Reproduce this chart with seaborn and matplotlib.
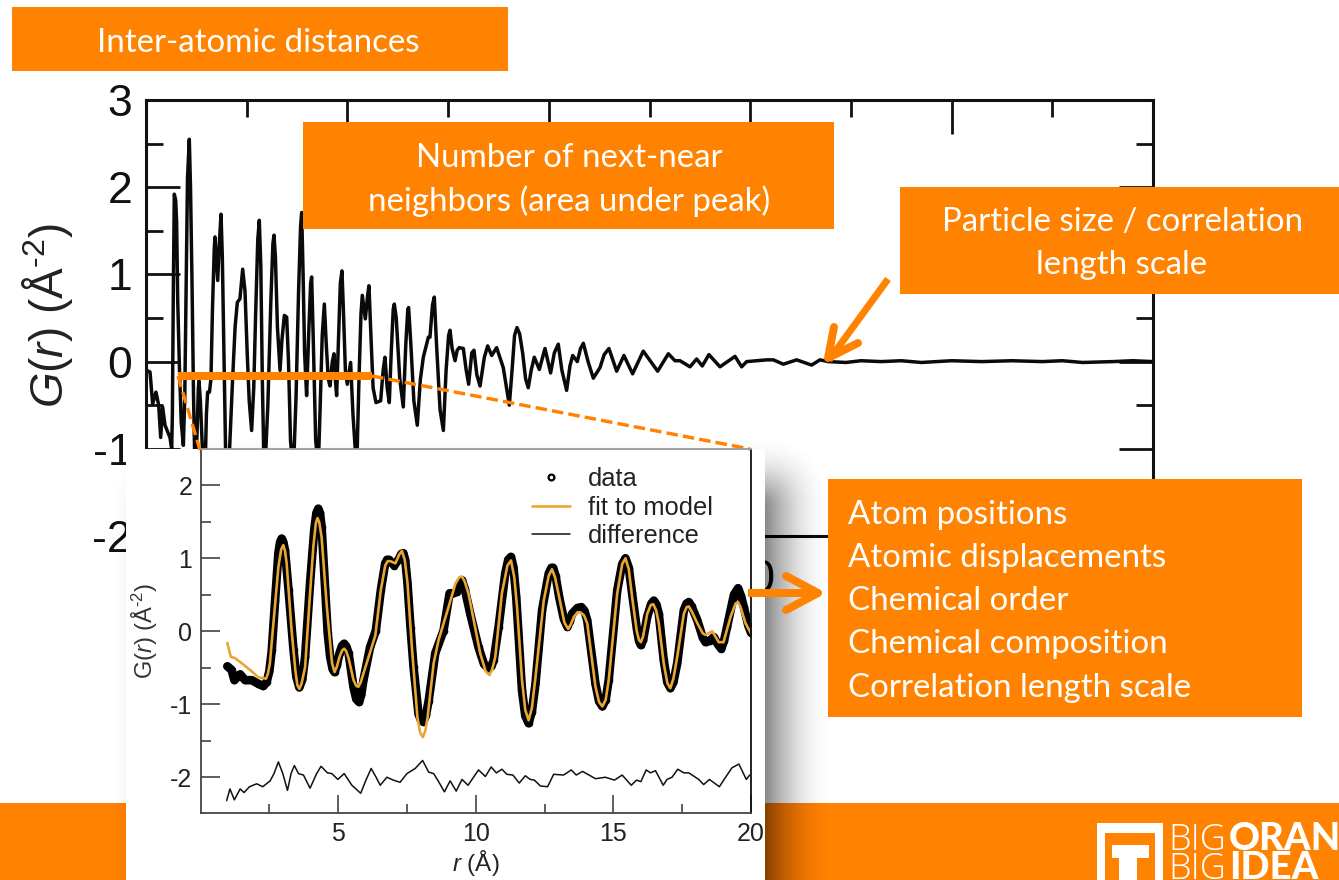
import matplotlib
matplotlib.use("Agg")
import matplotlib.pyplot as plt
import seaborn as sns
from matplotlib.lines import Line2D
from matplotlib.patches import Rectangle, FancyBboxPatch

# ---------- data ----------
main_r = [0.07,0.40,0.66,0.99,1.26,1.46,1.65,1.89,2.38,2.55,2.62,2.72,2.81,2.95,3.04,3.15,3.31,3.5,3.71,3.85,3.98,4.12,4.30,4.42,4.57,4.72,4.87,5.05,5.2,5.26,5.4,5.6,5.86,6.0,6.12,6.3,6.45,6.6,6.78,6.85,6.97,7.12,7.28,7.45,7.58,7.75,7.9,8.05,8.3,8.6,8.85,9.07,9.33,9.6,9.83,10.05,10.25,10.49,10.7,10.9,11.1,11.25,11.4,11.55,11.75,12.1,12.4,12.6,12.71,12.85,13.05,13.31,13.5,13.74,13.97,14.15,14.35,14.63,14.9,15.15,15.35,15.46,15.6,15.75,15.95,16.15,16.35,16.45,16.6,16.85,17.11,17.3,17.5,17.71,17.9,18.1,18.27,18.5,18.67,18.8,18.93,19.1,19.3,19.46,19.6,19.8,19.99,20.32,20.55,20.92,21.15,21.35,21.48,21.78,22.0,22.14,22.3,22.55,22.84,23.3,23.55,23.73,23.95,24.16,24.35,24.55,24.66,24.85,25.2,25.55,25.8,26.0,26.08,26.3,26.6,26.94,27.25,27.54,28.04,28.2,28.45,28.63,28.85,29.2,29.53,29.8,30.05,30.19,30.4,30.69,30.9,31.11,31.51,31.8,32.04,32.35,32.57,32.85,33.17,33.6,33.93,34.33,34.82,35.48,35.8,36.08,36.35,36.6,36.84,37.1,37.4,37.7,37.96,38.25,38.56,39.06,39.62,40.18,40.55,40.94,41.3,41.77,42.1,42.37,42.83,43.15,43.43,43.9,44.42,45.08,45.5,45.97,46.74,47.46,48.32,49.38,50.0,50.81,51.87,52.53,53.03,54.02,54.68,55.24,55.9,57.0,58.49,59.15,59.65,60.64,61.63,62.3,63.29,64.61,66.1,66.93,67.75,69.5,71,73,75,77,80,83,86,89,91,93,96,98,100]
main_g = [-0.10,-0.12,-0.485,-0.35,-0.50,-0.87,-0.52,-0.73,-0.87,-1.0,-0.6,0.9,1.92,1.85,1.6,0.7,-0.03,-0.7,-0.96,-0.4,0.8,2.1,2.55,2.0,0.9,-0.4,-1.29,-0.9,-0.3,-0.22,-0.45,-1.0,-1.29,-0.6,-0.35,-0.35,-0.2,0.6,1.3,1.43,1.2,0.93,1.35,1.69,1.2,0.0,-1.0,-1.33,-1.0,-0.2,0.4,0.68,0.72,1.06,0.81,0.1,-0.45,-0.79,-0.3,0.6,1.4,1.62,1.1,-0.2,-1.4,-0.5,0.7,1.35,1.45,1.2,0.4,-0.10,0.25,0.53,0.51,0.0,-0.9,-1.29,-0.4,0.8,1.55,1.71,1.0,0.1,-0.39,0.3,0.9,0.97,0.3,-0.9,-1.21,-0.5,0.3,0.66,0.2,-0.2,-0.28,0.0,0.09,-0.2,-0.39,0.2,0.9,1.04,0.6,-0.1,-0.26,-0.01,-0.6,-1.25,-0.2,0.55,0.76,0.49,0.75,0.87,0.4,-0.3,-0.47,-0.45,-0.1,0.05,-0.3,-0.47,0.1,0.6,0.66,0.5,-0.2,-0.52,0.2,0.6,0.62,0.2,-0.45,-0.73,-0.2,0.05,0.28,0.28,0.65,0.74,0.2,-0.55,-0.79,-0.1,0.3,0.36,0.15,0.01,0.13,0.16,0.15,-0.1,-0.26,0.1,0.13,-0.15,-0.28,0.05,0.18,0.07,0.16,-0.07,-0.3,-0.50,-0.1,0.3,0.39,0.32,0.1,-0.2,-0.30,-0.1,0.05,-0.09,0.15,-0.13,0.1,0.20,-0.1,-0.33,-0.05,0.07,0.0,0.15,0.21,0.0,-0.19,-0.07,0.08,0.15,-0.11,0.07,-0.14,0.12,0.02,-0.11,0.09,0.01,0.01,-0.06,0.03,-0.05,0.08,-0.06,0.06,-0.06,0.0,0.01,0.02,0.02,-0.03,0.02,-0.04,0.02,0.0,-0.01,0.01,0.0,0.01,-0.01,0.01,0.0,0.01,0.0,0.01,-0.01,0.0,0.01,0.0]

data_r = [0.975,1.13,1.23,1.44,1.62,1.86,2.10,2.28,2.40,2.5,2.59,2.71,2.83,2.89,2.95,3.01,3.07,3.2,3.38,3.48,3.59,3.7,3.8,3.98,4.13,4.21,4.28,4.34,4.4,4.53,4.62,4.71,4.8,4.87,4.96,5.05,5.14,5.22,5.30,5.38,5.56,5.66,5.76,5.84,5.92,6.16,6.37,6.55,6.71,6.78,6.85,7.04,7.19,7.3,7.37,7.44,7.52,7.63,7.74,7.92,8.01,8.10,8.19,8.29,8.53,8.83,9.05,9.19,9.31,9.42,9.5,9.6,9.8,10.1,10.3,10.47,10.57,10.65,10.83,11.07,11.18,11.28,11.37,11.47,11.68,11.8,11.92,12.04,12.17,12.41,12.65,12.75,12.81,12.9,13.03,13.2,13.33,13.42,13.5,13.7,13.84,13.95,14.05,14.35,14.48,14.6,14.72,14.83,15.14,15.32,15.44,15.56,15.68,15.85,15.93,16.0,16.08,16.23,16.38,16.47,16.56,16.65,16.83,16.96,17.07,17.18,17.32,17.56,17.66,17.74,17.84,18.05,18.25,18.35,18.5,18.65,18.8,18.92,19.02,19.13,19.38,19.53,19.64,19.74,19.9,20.0]
data_g = [-0.48,-0.53,-0.67,-0.59,-0.67,-0.67,-0.72,-0.75,-0.70,-0.55,-0.26,0.42,1.07,1.22,1.27,1.22,1.11,0.56,-0.26,-0.62,-0.77,-0.66,-0.35,0.66,1.38,1.62,1.68,1.62,1.43,0.56,-0.02,-0.35,-0.52,-0.56,-0.46,-0.30,-0.20,-0.17,-0.21,-0.30,-0.77,-0.93,-0.97,-0.87,-0.67,-0.22,0.01,0.56,0.93,0.98,0.98,0.90,0.98,1.06,1.07,0.97,0.66,0.05,-0.49,-1.13,-1.22,-1.24,-1.15,-0.95,-0.30,0.01,0.52,0.52,0.54,0.66,0.70,0.58,0.24,-0.22,-0.45,-0.51,-0.48,-0.4,0.06,0.79,0.98,1.02,0.88,0.47,-0.81,-1.16,-1.26,-1.1,-0.72,0.29,0.79,0.87,0.87,0.76,0.47,0.17,0.06,0.14,0.24,0.32,0.33,0.28,0.15,-0.72,-0.96,-1.03,-0.94,-0.67,0.56,0.92,1.0,0.87,0.52,0.04,-0.13,-0.19,-0.12,0.20,0.38,0.42,0.37,0.24,-0.4,-0.7,-0.78,-0.7,-0.44,0.29,0.38,0.40,0.34,0.15,-0.09,-0.15,-0.13,-0.08,-0.18,-0.24,-0.13,0.06,0.5,0.59,0.48,0.33,0.08,-0.02]

fit_r = [0.975,1.1,1.26,1.5,1.8,2.1,2.38,2.45,2.52,2.65,2.83,2.93,3.01,3.07,3.13,3.31,3.45,3.52,3.59,3.67,3.8,3.98,4.1,4.19,4.25,4.31,4.4,4.59,4.78,4.87,4.96,5.05,5.15,5.22,5.29,5.38,5.56,5.66,5.74,5.82,5.92,6.35,6.55,6.71,6.8,6.9,7.08,7.22,7.32,7.42,7.52,7.68,7.88,7.98,8.08,8.17,8.25,8.47,8.65,9.01,9.26,9.4,9.5,9.6,9.74,10.16,10.36,10.5,10.6,10.71,10.95,11.15,11.28,11.4,11.5,11.68,11.8,11.92,12.04,12.17,12.47,12.65,12.77,12.88,13.03,13.22,13.36,13.46,13.57,13.7,13.8,13.93,14.05,14.35,14.48,14.6,14.72,14.83,15.14,15.32,15.44,15.56,15.68,15.85,15.93,16.0,16.08,16.23,16.36,16.45,16.55,16.65,16.83,16.96,17.07,17.18,17.32,17.56,17.66,17.74,17.85,18.05,18.25,18.35,18.59,18.83,19.0,19.26,19.44,19.53,19.62,19.8,20.0]
fit_g = [-0.16,-0.35,-0.37,-0.44,-0.53,-0.63,-0.65,-0.58,-0.44,0.11,0.88,1.12,1.18,1.10,0.93,0.01,-0.55,-0.74,-0.79,-0.72,-0.49,0.52,1.16,1.48,1.55,1.50,1.29,0.33,-0.44,-0.56,-0.48,-0.35,-0.26,-0.24,-0.27,-0.37,-0.67,-0.75,-0.76,-0.7,-0.58,-0.06,0.56,0.9,0.96,0.96,0.93,1.05,1.10,0.98,0.66,-0.22,-1.18,-1.39,-1.45,-1.36,-1.18,-0.44,-0.12,0.33,0.65,0.74,0.75,0.68,0.51,-0.3,-0.55,-0.6,-0.52,-0.35,0.52,0.9,0.97,0.74,0.33,-0.67,-1.08,-1.22,-1.05,-0.63,0.42,0.76,0.85,0.74,0.47,0.12,0.03,0.1,0.2,0.26,0.26,0.22,0.11,-0.76,-0.97,-1.03,-0.94,-0.67,0.52,0.92,1.0,0.85,0.47,0.0,-0.12,-0.15,-0.07,0.24,0.36,0.37,0.29,0.11,-0.44,-0.71,-0.78,-0.65,-0.35,0.24,0.33,0.34,0.27,0.11,-0.03,-0.05,0.0,-0.15,-0.15,0.2,0.38,0.4,0.33,0.11,-0.03]

diff_r = [0.95,1.07,1.23,1.44,1.58,1.78,2.04,2.26,2.53,2.67,2.83,2.99,3.16,3.29,3.41,3.56,3.74,3.98,4.22,4.38,4.61,4.77,4.99,5.22,5.5,5.82,6.01,6.2,6.38,6.53,6.77,7.01,7.25,7.5,7.8,8.07,8.29,8.47,8.65,8.86,9.07,9.29,9.5,9.72,10.1,10.35,10.56,10.75,10.95,11.13,11.35,11.58,11.8,11.98,12.13,12.35,12.61,12.83,13.19,13.47,13.65,13.88,14.35,14.71,15.04,15.32,15.65,15.84,16.0,16.19,16.35,16.53,16.81,16.95,17.13,17.34,17.56,17.74,18.1,18.28,18.49,18.85,19.13,19.31,19.56,19.83,19.95]
diff_g = [-2.32,-2.16,-2.31,-2.16,-2.21,-2.13,-2.09,-2.13,-2.05,-1.95,-1.79,-1.95,-2.18,-1.95,-1.84,-1.95,-1.97,-2.15,-1.95,-1.85,-1.94,-1.95,-2.03,-1.95,-2.11,-2.22,-2.04,-1.88,-2.0,-2.11,-2.0,-2.04,-2.07,-1.95,-1.88,-1.77,-1.93,-1.95,-2.06,-2.2,-2.05,-2.19,-2.03,-2.11,-1.9,-1.99,-1.86,-1.94,-1.89,-1.96,-1.97,-2.08,-1.98,-2.03,-2.04,-2.12,-2.13,-1.96,-1.97,-1.9,-1.97,-1.92,-2.02,-2.0,-2.04,-1.97,-2.11,-2.04,-2.06,-1.9,-1.94,-1.91,-2.11,-2.03,-2.0,-1.89,-1.94,-1.94,-2.03,-2.1,-2.03,-2.13,-1.97,-1.87,-1.82,-2.03,-1.97]

main_xticks = [0, 20, 40, 60, 80, 100]
main_xticklabels = ["", "", "", "60", "", ""]
main_yticks = [-2, -1, 0, 1, 2, 3]
main_yticklabels = ["-2", "-1", "0", "1", "2", "3"]
inset_xticks = [5, 10, 15, 20]
inset_yticks = [-2, -1, 0, 1, 2]
inset_yticklabels = ["-2", "-1", "0", "1", "2"]
legend_labels = ["data", "fit to model", "difference"]
detail_lines = ["Atom positions", "Atomic displacements", "Chemical order",
                "Chemical composition", "Correlation length scale"]

# ---------- style ----------
ORANGE = "#FF8200"
GOLD = "#E8A632"
W, H = 1339, 880
PT = 72 / 100  # points per pixel

sns.set_theme(style="white")
plt.rcParams["font.family"] = ["Liberation Sans", "DejaVu Sans"]
plt.rcParams["mathtext.fontset"] = "custom"
plt.rcParams["mathtext.rm"] = "Liberation Sans"
plt.rcParams["mathtext.it"] = "Liberation Sans:italic"
plt.rcParams["axes.unicode_minus"] = False

fig = plt.figure(figsize=(W / 100, H / 100), dpi=100, facecolor="white")


def box_axes(x0, y0, x1, y1, z):
    ax = fig.add_axes([x0 / W, 1 - y1 / H, (x1 - x0) / W, (y1 - y0) / H], zorder=z)
    ax.patch.set_alpha(0)
    return ax


def overlay(z):
    ax = box_axes(0, 0, W, H, z)
    ax.set_xlim(0, W)
    ax.set_ylim(H, 0)
    ax.axis("off")
    return ax


# background band
bg = overlay(0)
bg.add_patch(Rectangle((0, 803), W, 77, color=ORANGE, lw=0))

# main axes
ax = box_axes(146, 100, 1153, 536, 1)
sns.lineplot(x=main_r, y=main_g, ax=ax, color="#0a0a0a", lw=2.5, estimator=None,
             sort=False, errorbar=None)
ax.set_xlim(0, 100)
ax.set_ylim(-2, 3)
ax.set_xticks(main_xticks)
ax.set_xticklabels(main_xticklabels)
ax.set_xticks([10, 30, 50, 70, 90], minor=True)
ax.set_yticks(main_yticks)
ax.set_yticklabels(main_yticklabels)
ax.set_yticks([-1.5, -0.5, 0.5, 1.5, 2.5], minor=True)
ax.tick_params(axis="both", which="major", direction="in", top=True, right=True, bottom=True,
               left=True, length=34 * PT, width=2.0, color="#111111", labelsize=32, pad=10,
               labelcolor="#111111")
ax.tick_params(axis="both", which="minor", direction="in", top=True, right=True, bottom=True,
               left=True, length=17 * PT, width=2.0, color="#111111")
ax.tick_params(axis="x", which="major", pad=16, labelsize=33)
for s in ax.spines.values():
    s.set_linewidth(2.2)
    s.set_color("#111111")
    s.set_visible(True)
ax.set_ylabel(r"$G(r)$ (Å$^{\text{-2}}$)", fontsize=33, color="#222222")
ax.yaxis.set_label_coords(-0.0705, 0.505)

# shadow and white panel
mid = overlay(2)
PX0, PX1, PY0, PY1 = 126, 765, 449, 880
N = 80
prev = 0.0
for d in range(N, 0, -2):
    t = 0.58 * (1 - d / N) ** 2
    a = 1 - (1 - t) / (1 - prev)
    prev = t
    mid.add_patch(FancyBboxPatch((186, 510), 570, 500,
                                 boxstyle=f"round,pad={d},rounding_size={d}",
                                 fc="black", ec="none", alpha=a, lw=0))
mid.add_patch(Rectangle((PX0, PY0), PX1 - PX0, PY1 - PY0, fc="white", ec="none"))
mid.plot([178, 372], [376, 376], color=ORANGE, lw=8 * PT, solid_capstyle="butt")
mid.plot([178, 200], [376, 450], color=ORANGE, lw=3.4 * PT, ls=(0, (3.4, 1.5)))
mid.plot([372, 750], [376, 449], color=ORANGE, lw=3.4 * PT, ls=(0, (3.4, 1.5)))

# inset axes
ins = box_axes(200.5, 449.5, 751, 813, 3)
sns.lineplot(x=data_r, y=data_g, ax=ins, color="black", lw=6.2, estimator=None, sort=False,
             errorbar=None, marker="o", markersize=5.5, markeredgewidth=0,
             solid_joinstyle="round")
sns.lineplot(x=fit_r, y=fit_g, ax=ins, color=GOLD, lw=1.9, estimator=None, sort=False,
             errorbar=None, solid_joinstyle="round")
sns.lineplot(x=diff_r, y=diff_g, ax=ins, color="#111111", lw=1.1, estimator=None, sort=False,
             errorbar=None, solid_joinstyle="round")
ins.set_xlim(0, 20)
ins.set_ylim(-2.49, 2.49)
ins.set_xticks(inset_xticks)
ins.set_xticks([2.5, 7.5, 12.5, 17.5], minor=True)
ins.set_yticks(inset_yticks)
ins.set_yticklabels(inset_yticklabels)
ins.set_yticks([-1.5, -0.5, 0.5, 1.5], minor=True)
ins.tick_params(axis="both", which="major", direction="in", bottom=True, left=True, length=18.5 * PT,
                width=1.1, color="#333333", labelsize=18, labelcolor="#222222")
ins.tick_params(axis="x", which="major", pad=6.5)
ins.tick_params(axis="y", which="major", pad=6)
ins.tick_params(axis="both", which="minor", direction="in", bottom=True, left=True, length=9.5 * PT,
                width=1.1, color="#333333")
for name, s in ins.spines.items():
    s.set_visible(True)
    s.set_linewidth(1.3)
    s.set_color("#444444")
ins.spines["top"].set_color("#999999")
ins.spines["right"].set_color("#111111")
ins.set_xlabel(r"$r$ (Å)", fontsize=17.5, color="#222222", labelpad=1.5)
ins.set_ylabel(r"G($r$) (Å$^{\text{-2}}$)", fontsize=17, color="#333333")
ins.yaxis.set_label_coords(-0.0736, 0.5)
handles = [
    Line2D([], [], ls="", marker="o", mfc="white", mec="black", mew=1.6, ms=4.2),
    Line2D([], [], color=GOLD, lw=1.9),
    Line2D([], [], color="#111111", lw=1.1),
]
leg = ins.legend(handles, legend_labels, loc="upper left", bbox_to_anchor=(0.582, 0.983), frameon=False,
                 fontsize=18.4, handlelength=1.48, handletextpad=0.68, labelspacing=0.18,
                 borderpad=0.3, borderaxespad=0.15)
for t in leg.get_texts():
    t.set_color("#222222")

# annotation boxes and arrows
top = overlay(4)
TXT = ["Lato", "DejaVu Sans"]
FS = 23.8


def box(x0, y0, x1, y1):
    top.add_patch(Rectangle((x0, y0), x1 - x0, y1 - y0, fc=ORANGE, ec="none"))


def label(x, y, s, ha="center"):
    top.text(x, y, s, color="white", fontsize=FS, family=TXT, ha=ha, va="center_baseline")


box(12, 7, 508, 71)
label(97, 40, "Inter-atomic distances", ha="left")
box(303, 122, 834, 229)
label(569, 155, "Number of next-near")
label(569, 198, "neighbors (area under peak)")
box(900, 187, 1339, 294)
label(1122, 219, "Particle size / correlation")
label(1122, 262, "length scale")
box(828, 479, 1302, 717)
for yy, s in zip([512, 555, 598, 641, 685], detail_lines):
    label(848, yy, s, ha="left")

A = dict(color=ORANGE, lw=8 * PT, solid_capstyle="round", solid_joinstyle="round")
top.plot([888, 829], [279, 360], color=ORANGE, lw=7 * PT, solid_capstyle="butt")
top.plot([834, 828, 858], [327, 358, 343], **A)
top.plot([748, 818], [593, 593], color=ORANGE, lw=8 * PT, solid_capstyle="butt")
top.plot([786, 818, 786], [576, 593, 610], **A)

# logo
top.add_patch(Rectangle((1097, 823), 66, 57, fc="white", ec="none"))
top.add_patch(Rectangle((1105, 833), 50, 47, fc=ORANGE, ec="none"))
top.add_patch(Rectangle((1112, 845), 37, 13, fc="white", ec="none"))
top.add_patch(Rectangle((1119, 845), 18, 35, fc="white", ec="none"))
lg = dict(color="white", va="baseline", ha="left")
top.text(1168, 850, "BIG", fontweight="light", fontsize=26, family=["Open Sans", "DejaVu Sans"], **lg)
top.text(1229, 850, "ORAN", fontweight="black", fontsize=27.5, family=["Lato", "DejaVu Sans"], **lg)
top.text(1168, 879, "BIG", fontweight="light", fontsize=26, family=["Open Sans", "DejaVu Sans"], **lg)
top.text(1229, 879, "IDEA", fontweight="black", fontsize=27.5, family=["Lato", "DejaVu Sans"], **lg)

fig.savefig("out.png", dpi=100)
